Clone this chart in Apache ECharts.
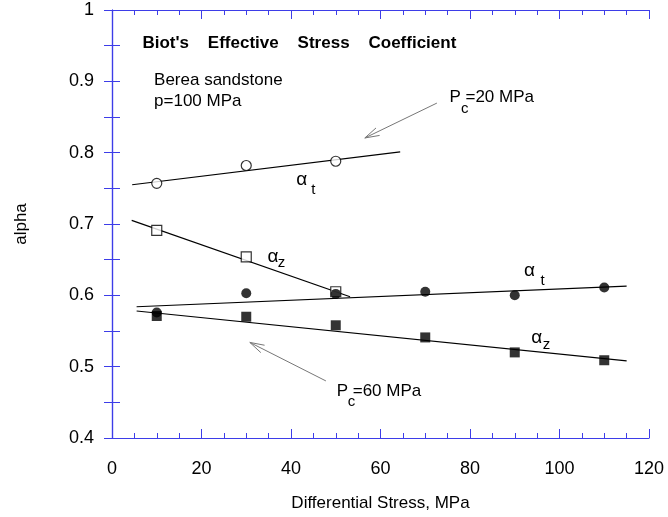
<!DOCTYPE html>
<html>
<head>
<meta charset="utf-8">
<script src="https://cdn.jsdelivr.net/npm/echarts@6/dist/echarts.min.js"></script>
<style>
  html, body { margin: 0; padding: 0; background: #fff; }
  #chart { width: 668px; height: 517px; }
</style>
</head>
<body>
<div id="chart"></div>
<script>
// measured points, differential stress (MPa) vs alpha
var stress20 = [10, 30, 50];
var alphaT20 = [0.757, 0.782, 0.788];   // open circles, Pc=20
var alphaZ20 = [0.691, 0.654, 0.605];   // open squares, Pc=20
var stress60 = [10, 30, 50, 70, 90, 110];
var alphaT60 = [0.576, 0.603, 0.602, 0.605, 0.600, 0.611]; // filled circles
var alphaZ60 = [0.571, 0.570, 0.558, 0.541, 0.520, 0.509]; // filled squares

// fitted lines, [x, y] end points
var fitT20 = [[4.5, 0.755], [64.4, 0.801]];
var fitZ20 = [[4.4, 0.705], [53.2, 0.598]];
var fitT60 = [[5.5, 0.584], [115, 0.613]];
var fitZ60 = [[5.5, 0.578], [115, 0.508]];

// arrows: tail x, tail y, tip x, tip y
var arrows = [[72.6, 0.8695, 56.5, 0.8206], [47.8, 0.480, 30.8, 0.534]];

// text notes in data coords
var titleText = [[6.8, 0.954, "Biot's    Effective    Stress    Coefficient"]];
var noteText = [[9.4, 0.901, 'Berea sandstone'], [9.4, 0.872, 'p=100 MPa'],
                [75.4, 0.877, 'P =20 MPa'], [50.2, 0.466, 'P =60 MPa']];
var alphaText = [[42.4, 0.762, 'α'], [36.0, 0.654, 'α'], [93.3, 0.634, 'α'], [94.9, 0.541, 'α']];
var subText = [[45.0, 0.748, 't'], [37.9, 0.646, 'z'], [96.2, 0.620, 't'], [97.1, 0.531, 'z'],
               [78.8, 0.861, 'c'], [53.5, 0.451, 'c']];

var xTicks = { min: 0, max: 120, interval: 20 };
var yTicks = { min: 0.4, max: 1, interval: 0.1 };

var FONT = '"Liberation Sans", Arial, sans-serif';
var AXIS_BLUE = '#3d3de8';

function pair(xs, ys) {
    return xs.map(function (x, i) { return [x, ys[i]]; });
}

function textSeries(data, size, weight, align) {
    return {
        type: 'custom',
        data: data,
        z: 10,
        silent: true,
        renderItem: function (params, api) {
            var p = api.coord([api.value(0), api.value(1)]);
            return {
                type: 'text',
                x: p[0], y: p[1],
                style: {
                    text: data[params.dataIndex][2],
                    font: weight + ' ' + size + 'px ' + FONT,
                    fill: '#000',
                    align: align,
                    verticalAlign: 'middle'
                }
            };
        }
    };
}

function fitSeries(data) {
    return {
        type: 'line', data: data, symbol: 'none', silent: true,
        lineStyle: { color: '#000', width: 1.2 }, z: 2
    };
}

var xBase = {
    type: 'value', min: xTicks.min, max: xTicks.max, interval: xTicks.interval,
    axisLine: { lineStyle: { color: AXIS_BLUE, width: 1.2 } },
    axisTick: { inside: true, length: 9, lineStyle: { color: AXIS_BLUE } },
    minorTick: { show: true, splitNumber: 4, length: 5, lineStyle: { color: AXIS_BLUE } },
    splitLine: { show: false }
};
var yBase = {
    type: 'value', min: yTicks.min, max: yTicks.max, interval: yTicks.interval,
    axisLine: { lineStyle: { color: AXIS_BLUE, width: 1.2 } },
    axisTick: { inside: true, length: 8, lineStyle: { color: AXIS_BLUE } },
    minorTick: { show: true, splitNumber: 2, length: 8, lineStyle: { color: AXIS_BLUE } },
    splitLine: { show: false }
};

var chart = echarts.init(document.getElementById('chart'));
chart.setOption({
    animation: false,
    backgroundColor: '#fff',
    textStyle: { fontFamily: FONT },
    grid: { left: 112, right: 19, top: 10, bottom: 78 },
    xAxis: [
        Object.assign({}, xBase, {
            position: 'bottom',
            name: 'Differential Stress, MPa', nameLocation: 'middle', nameGap: 57,
            nameTextStyle: { fontSize: 17, color: '#000', fontFamily: FONT },
            axisLabel: { margin: 22, fontSize: 18, color: '#000', fontFamily: FONT }
        }),
        Object.assign({}, xBase, { position: 'top', axisLabel: { show: false } })
    ],
    yAxis: [
        Object.assign({}, yBase, {
            position: 'left',
            name: 'alpha', nameLocation: 'middle', nameGap: 82,
            nameTextStyle: { fontSize: 17, color: '#000', fontFamily: FONT },
            axisLabel: {
                margin: 18, fontSize: 18, color: '#000', fontFamily: FONT,
                formatter: function (v) { return String(+v.toFixed(1)); }
            }
        }),
        Object.assign({}, yBase, { position: 'right', axisLabel: { show: false } })
    ],
    series: [
        fitSeries(fitT20), fitSeries(fitZ20), fitSeries(fitT60), fitSeries(fitZ60),
        {
            type: 'scatter', data: pair(stress20, alphaT20), symbol: 'circle', symbolSize: 10,
            itemStyle: { color: '#fff', borderColor: '#000', borderWidth: 1.2 }, z: 3
        },
        {
            type: 'scatter', data: pair(stress20, alphaZ20), symbol: 'rect', symbolSize: 10,
            itemStyle: { color: '#fff', borderColor: '#000', borderWidth: 1.2 }, z: 3
        },
        {
            type: 'scatter', data: pair(stress60, alphaT60), symbol: 'circle', symbolSize: 10,
            itemStyle: { color: '#000' }, z: 4
        },
        {
            type: 'scatter', data: pair(stress60, alphaZ60), symbol: 'rect', symbolSize: 10,
            itemStyle: { color: '#000' }, z: 5
        },
        {
            type: 'custom', data: arrows, silent: true, z: 6,
            renderItem: function (params, api) {
                var a = api.coord([api.value(0), api.value(1)]);
                var b = api.coord([api.value(2), api.value(3)]);
                var ang = Math.atan2(b[1] - a[1], b[0] - a[0]);
                var len = 15, spread = 0.28;
                var l = [b[0] - len * Math.cos(ang - spread), b[1] - len * Math.sin(ang - spread)];
                var r = [b[0] - len * Math.cos(ang + spread), b[1] - len * Math.sin(ang + spread)];
                var st = { stroke: '#777', lineWidth: 1, fill: null };
                return {
                    type: 'group',
                    children: [
                        { type: 'line', shape: { x1: a[0], y1: a[1], x2: b[0], y2: b[1] }, style: st },
                        { type: 'polyline', shape: { points: [l, b, r] }, style: st }
                    ]
                };
            }
        },
        textSeries(titleText, 17, 'bold', 'left'),
        textSeries(noteText, 17, 'normal', 'left'),
        textSeries(alphaText, 19, 'normal', 'center'),
        textSeries(subText, 15, 'normal', 'center')
    ]
});
</script>
</body>
</html>
